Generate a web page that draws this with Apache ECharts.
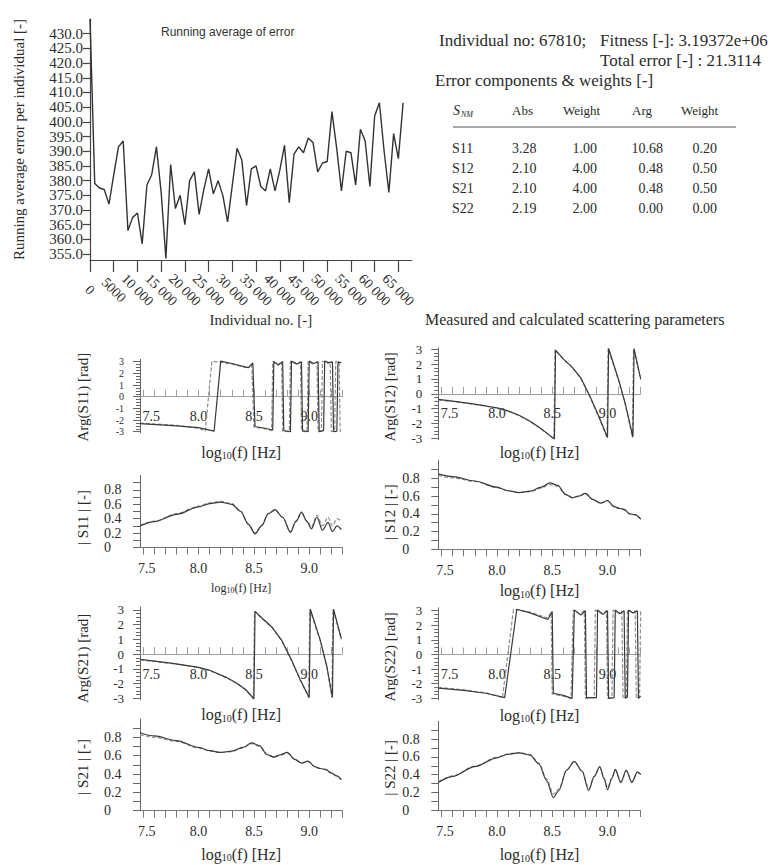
<!DOCTYPE html>
<html>
<head>
<meta charset="utf-8">
<title>Running average of error / scattering parameters</title>
<script src="https://cdn.jsdelivr.net/npm/echarts@6/dist/echarts.min.js"></script>
<style>
  html, body { margin: 0; padding: 0; background: #fff; }
  #chart { width: 775px; height: 865px; }
</style>
</head>
<body>
<div id="chart"></div>
<script>
'use strict';

var SERIF = '"Liberation Serif", "Times New Roman", serif';
var SANS = '"Liberation Sans", Arial, sans-serif';
var INK = '#2b2b2b';

// Running average of error (one value per 1000 individuals)
var runIndividual = [
  0, 1000, 2000, 3000, 4000, 5000, 6000, 7000, 8000, 9000,
  10000, 11000, 12000, 13000, 14000, 15000, 16000, 17000, 18000, 19000,
  20000, 21000, 22000, 23000, 24000, 25000, 26000, 27000, 28000, 29000,
  30000, 31000, 32000, 33000, 34000, 35000, 36000, 37000, 38000, 39000,
  40000, 41000, 42000, 43000, 44000, 45000, 46000, 47000, 48000, 49000,
  50000, 51000, 52000, 53000, 54000, 55000, 56000, 57000, 58000, 59000,
  60000, 61000, 62000, 63000, 64000, 65000, 66000
];
var runError = [
  435, 379, 377.5, 377, 372, 382, 391.5, 393.5, 363, 367.5,
  369, 358.5, 378.5, 382, 391.5, 376, 353.5, 385.5, 370.5, 375,
  365, 380, 383, 368.5, 377, 384, 375.5, 380, 375, 366,
  378.5, 391, 387, 371.5, 384, 385, 378, 376.5, 384, 376.5,
  383.5, 392, 372.5, 389, 391.5, 389.5, 394.5, 393, 383, 386,
  386.5, 403.5, 391, 376.5, 390, 389.5, 378.5, 397.5, 393.5, 378,
  402, 406.5, 390, 376, 396, 387.5, 406.5
];
var runXTicks = [0, 5000, 10000, 15000, 20000, 25000, 30000, 35000, 40000, 45000, 50000, 55000, 60000, 65000];
var runYTicks = [355, 360, 365, 370, 375, 380, 385, 390, 395, 400, 405, 410, 415, 420, 425, 430];

// Best individual and its error table
var individualNo = 67810;
var fitness = '3.19372e+06';
var totalError = '21.3114';
var compNames = ['S11', 'S12', 'S21', 'S22'];
var absErr = ['3.28', '2.10', '2.10', '2.19'];
var absWeight = ['1.00', '4.00', '4.00', '2.00'];
var argErr = ['10.68', '0.48', '0.48', '0.00'];
var argWeight = ['0.20', '0.50', '0.50', '0.00'];

// Scattering parameter panels: x = log10(f)
var freqTicks = [7.5, 7.6, 7.7, 7.8, 7.9, 8.0, 8.1, 8.2, 8.3, 8.4, 8.5, 8.6, 8.7, 8.8, 8.9, 9.0, 9.1, 9.2, 9.3];
var freqLabels = [7.5, 8.0, 8.5, 9.0];
var argLabels = [-3, -2, -1, 0, 1, 2, 3];
var magLabels = [0, 0.2, 0.4, 0.6, 0.8];

var argS11Meas = [[7.47,-2.3],[7.8,-2.5],[8.0,-2.65],[8.14,-2.95],[8.2,3.05],[8.3,2.85],[8.45,2.5],[8.49,2.9],
  [8.51,-2.55],[8.6,-2.7],[8.67,-2.85],[8.68,3.0],[8.72,2.75],[8.76,3.0],[8.77,-2.9],[8.83,-3.0],
  [8.84,3.05],[8.89,2.8],[8.93,3.0],[8.94,-2.9],[8.99,-3.0],[9.0,3.05],[9.04,2.85],[9.08,3.0],
  [9.09,-3.0],[9.13,-2.9],[9.14,3.05],[9.18,2.9],[9.21,3.0],[9.22,-3.0],[9.25,-2.95],[9.26,3.0],[9.29,2.9]];
var argS11Calc = [[7.47,-2.25],[7.8,-2.45],[8.0,-2.7],[8.06,-2.95],[8.12,3.05],[8.2,2.95],[8.3,2.8],[8.45,2.45],[8.48,2.85],
  [8.5,-2.6],[8.6,-2.75],[8.66,-2.9],[8.67,3.05],[8.72,2.7],[8.75,3.0],[8.76,-2.95],[8.82,-3.0],
  [8.83,3.05],[8.88,2.8],[8.92,3.0],[8.93,-2.95],[8.98,-3.0],[8.99,3.05],[9.03,2.8],[9.07,3.0],
  [9.08,-3.0],[9.11,-2.9],[9.12,3.05],[9.16,2.85],[9.19,3.0],[9.2,-3.0],[9.23,-2.9],[9.24,3.05],[9.27,2.9],[9.28,-3.0],[9.29,-2.9]];

var argS12Meas = [[7.47,-0.38],[7.6,-0.5],[7.75,-0.65],[7.9,-0.82],[8.0,-0.95],[8.1,-1.15],[8.2,-1.45],[8.3,-1.85],
  [8.4,-2.35],[8.46,-2.7],[8.52,-3.05],[8.53,2.95],[8.6,2.35],[8.68,1.8],[8.76,1.05],[8.84,-0.15],[8.92,-1.5],
  [9.0,-2.95],[9.01,3.05],[9.1,0.95],[9.16,-0.65],[9.23,-2.9],[9.24,3.05],[9.3,1.0]];
var argS12Calc = [[7.47,-0.42],[7.6,-0.52],[7.75,-0.66],[7.9,-0.83],[8.0,-0.97],[8.1,-1.17],[8.2,-1.47],[8.3,-1.87],
  [8.4,-2.37],[8.46,-2.72],[8.515,-3.05],[8.525,2.95],[8.6,2.33],[8.68,1.78],[8.76,1.02],[8.84,-0.2],[8.92,-1.55],
  [8.995,-2.95],[9.005,3.05],[9.1,0.9],[9.16,-0.7],[9.225,-2.95],[9.235,3.05],[9.3,0.95]];

var argS21Meas = [[7.47,-0.36],[7.6,-0.48],[7.75,-0.62],[7.9,-0.78],[8.0,-0.9],[8.1,-1.1],[8.25,-1.58],[8.35,-2.0],
  [8.43,-2.44],[8.5,-3.05],[8.51,2.9],[8.58,2.4],[8.66,1.86],[8.75,0.95],[8.84,-0.41],[8.92,-1.76],
  [9.0,-2.95],[9.01,3.05],[9.1,0.95],[9.16,-0.86],[9.21,-2.95],[9.22,3.05],[9.29,1.06]];
var argS21Calc = [[7.47,-0.4],[7.6,-0.5],[7.75,-0.64],[7.9,-0.8],[8.0,-0.92],[8.1,-1.12],[8.25,-1.6],[8.35,-2.03],
  [8.43,-2.47],[8.495,-3.05],[8.505,2.9],[8.58,2.37],[8.66,1.83],[8.75,0.92],[8.84,-0.45],[8.92,-1.8],
  [8.995,-2.95],[9.005,3.05],[9.1,0.9],[9.16,-0.9],[9.205,-2.95],[9.215,3.05],[9.29,1.0]];

var argS22Meas = [[7.47,-2.3],[7.7,-2.45],[7.9,-2.65],[8.07,-2.95],[8.18,3.1],[8.3,2.85],[8.46,2.4],[8.5,2.95],
  [8.51,-2.65],[8.6,-2.8],[8.68,-3.0],[8.7,3.05],[8.76,2.7],[8.8,3.0],[8.81,-2.95],[8.9,-2.95],
  [8.91,3.05],[8.96,2.75],[9.0,3.0],[9.01,-3.0],[9.06,-2.95],[9.07,3.05],[9.11,2.8],[9.15,3.0],
  [9.16,-3.0],[9.18,-2.9],[9.19,3.05],[9.23,2.85],[9.27,3.0],[9.28,-3.0],[9.3,-2.85]];
var argS22Calc = [[7.47,-2.25],[7.7,-2.42],[7.9,-2.62],[8.05,-2.95],[8.15,3.1],[8.3,2.9],[8.46,2.5],[8.49,2.9],
  [8.5,-2.7],[8.6,-2.85],[8.67,-3.0],[8.69,3.05],[8.75,2.75],[8.79,3.0],[8.8,-3.0],[8.88,-2.95],
  [8.89,3.05],[8.95,2.8],[8.99,3.0],[9.0,-3.0],[9.04,-2.95],[9.05,3.05],[9.1,2.85],[9.13,3.0],
  [9.14,-3.0],[9.17,-2.9],[9.18,3.05],[9.22,2.9],[9.25,3.0],[9.26,-3.0],[9.29,-2.9],[9.3,3.0]];

var magS11Meas = [[7.47,0.30],[7.6,0.36],[7.8,0.46],[8.0,0.565],[8.1,0.61],[8.2,0.63],[8.3,0.60],[8.38,0.50],
  [8.45,0.32],[8.51,0.19],[8.57,0.30],[8.63,0.47],[8.69,0.525],[8.76,0.42],[8.83,0.21],[8.88,0.36],
  [8.93,0.49],[8.98,0.36],[9.02,0.26],[9.07,0.42],[9.12,0.24],[9.17,0.35],[9.21,0.22],[9.25,0.30],[9.29,0.25]];
var magS11Calc = [[7.47,0.31],[7.6,0.365],[7.8,0.47],[8.0,0.575],[8.1,0.62],[8.2,0.64],[8.3,0.61],[8.38,0.51],
  [8.45,0.33],[8.51,0.20],[8.57,0.31],[8.63,0.47],[8.69,0.52],[8.76,0.42],[8.83,0.22],[8.88,0.37],
  [8.93,0.48],[8.98,0.37],[9.02,0.28],[9.07,0.45],[9.12,0.30],[9.17,0.42],[9.21,0.30],[9.25,0.40],[9.29,0.37]];

var magS12Meas = [[7.47,0.85],[7.6,0.82],[7.8,0.77],[8.0,0.70],[8.1,0.66],[8.2,0.64],[8.3,0.655],[8.4,0.70],
  [8.48,0.75],[8.55,0.72],[8.62,0.62],[8.68,0.58],[8.74,0.60],[8.8,0.63],[8.87,0.56],[8.94,0.52],
  [9.0,0.55],[9.06,0.48],[9.11,0.46],[9.15,0.45],[9.2,0.40],[9.25,0.39],[9.3,0.34]];
var magS12Calc = [[7.47,0.83],[7.6,0.805],[7.8,0.765],[8.0,0.695],[8.1,0.66],[8.2,0.64],[8.3,0.65],[8.4,0.69],
  [8.48,0.73],[8.55,0.71],[8.62,0.62],[8.68,0.585],[8.74,0.60],[8.8,0.625],[8.87,0.56],[8.94,0.52],
  [9.0,0.545],[9.06,0.48],[9.11,0.46],[9.15,0.445],[9.2,0.40],[9.25,0.385],[9.3,0.34]];

var magS21Meas = [[7.47,0.85],[7.6,0.815],[7.8,0.765],[8.0,0.69],[8.1,0.655],[8.2,0.635],[8.3,0.65],[8.4,0.69],
  [8.48,0.74],[8.55,0.71],[8.62,0.61],[8.68,0.585],[8.74,0.61],[8.8,0.635],[8.87,0.56],[8.93,0.52],
  [8.99,0.54],[9.05,0.48],[9.1,0.46],[9.15,0.45],[9.2,0.41],[9.25,0.38],[9.29,0.34]];
var magS21Calc = [[7.47,0.83],[7.6,0.80],[7.8,0.755],[8.0,0.685],[8.1,0.65],[8.2,0.635],[8.3,0.645],[8.4,0.685],
  [8.48,0.73],[8.55,0.70],[8.62,0.61],[8.68,0.585],[8.74,0.605],[8.8,0.63],[8.87,0.56],[8.93,0.52],
  [8.99,0.535],[9.05,0.48],[9.1,0.46],[9.15,0.445],[9.2,0.41],[9.25,0.375],[9.29,0.34]];

var magS22Meas = [[7.47,0.31],[7.6,0.38],[7.8,0.49],[8.0,0.59],[8.1,0.63],[8.2,0.645],[8.3,0.62],[8.38,0.52],
  [8.45,0.33],[8.51,0.14],[8.56,0.22],[8.63,0.45],[8.7,0.55],[8.77,0.44],[8.83,0.22],[8.88,0.38],
  [8.93,0.49],[8.97,0.35],[9.0,0.23],[9.04,0.36],[9.07,0.46],[9.12,0.31],[9.17,0.45],[9.22,0.31],[9.27,0.43],[9.3,0.40]];
var magS22Calc = [[7.47,0.32],[7.6,0.385],[7.8,0.495],[8.0,0.595],[8.1,0.635],[8.2,0.65],[8.3,0.625],[8.38,0.53],
  [8.45,0.35],[8.51,0.18],[8.56,0.24],[8.63,0.45],[8.7,0.545],[8.77,0.44],[8.83,0.24],[8.88,0.38],
  [8.93,0.48],[8.97,0.36],[9.0,0.25],[9.04,0.36],[9.07,0.45],[9.12,0.32],[9.17,0.44],[9.22,0.32],[9.27,0.42],[9.3,0.41]];

// Panel layout (grid boxes in px) and per-panel name placement
var panels = [
  {box: [140, 359.4, 202.4, 73.5], kind: 'arg', yMin: -3.1, yMax: 3.2, yName: 'Arg(S11) [rad]', yGap: 50, yShift: 1, yFont: 10, xGap: 47, xFont: 16, meas: argS11Meas, calc: argS11Calc},
  {box: [438.3, 347.8, 202.4, 92], kind: 'arg', yMin: -3.1, yMax: 3.1, yName: 'Arg(S12) [rad]', yGap: 41, yShift: 3, yFont: 13, xGap: 50, xFont: 16, meas: argS12Meas, calc: argS12Calc},
  {box: [140, 475.5, 202.4, 72], kind: 'mag', yMin: 0, yMax: 1, yName: '| S11 | [-]', yGap: 50, yShift: 6, yFont: 14, xGap: 34, xFont: 12, meas: magS11Meas, calc: magS11Calc},
  {box: [438.3, 460.6, 202.4, 88.7], kind: 'mag', yMin: 0, yMax: 1, yName: '| S12 | [-]', yGap: 41, yShift: 7, yFont: 14, xGap: 33, xFont: 16, meas: magS12Meas, calc: magS12Calc},
  {box: [140, 607, 202.4, 92.7], kind: 'arg', yMin: -3.1, yMax: 3.2, yName: 'Arg(S21) [rad]', yGap: 50, yShift: 5, yFont: 13, xGap: 52, xFont: 16, meas: argS21Meas, calc: argS21Calc},
  {box: [438.3, 607.8, 202.4, 92], kind: 'arg', yMin: -3.1, yMax: 3.2, yName: 'Arg(S22) [rad]', yGap: 41, yShift: 3, yFont: 13, xGap: 52, xFont: 16, meas: argS22Meas, calc: argS22Calc},
  {box: [140, 719, 202.4, 91.7], kind: 'mag', yMin: 0, yMax: 1, yName: '| S21 | [-]', yGap: 50, yShift: 2, yFont: 14, xGap: 35, xFont: 16, meas: magS21Meas, calc: magS21Calc},
  {box: [438.3, 721.5, 202.4, 88.5], kind: 'mag', yMin: 0, yMax: 1, yName: '| S22 | [-]', yGap: 41, yShift: 2, yFont: 14, xGap: 36, xFont: 16, meas: magS22Meas, calc: magS22Calc}
];

function pairs(xs, ys) {
  return xs.map(function (x, i) { return [x, ys[i]]; });
}
function everyOther(list, start) {
  return list.filter(function (v, i) { return i % 2 === start; });
}
function fmtIndividual(v) {
  if (v < 10000) return String(v);
  return Math.round(v / 1000) + ' 000';
}

// Tightly packed y labels are drawn by two stacked axes (even / odd labels)
// so that the library does not drop any of them as overlapping.
function labelOnlyAxis(gridIndex, min, max, values, labelStyle) {
  return {
    gridIndex: gridIndex, type: 'value', position: 'left', min: min, max: max,
    axisLine: {show: false}, axisTick: {show: false}, minorTick: {show: false}, splitLine: {show: false},
    axisLabel: Object.assign({show: true, customValues: values, hideOverlap: false, showMinLabel: true, showMaxLabel: true}, labelStyle)
  };
}

var runYLabel = {
  margin: 7, fontFamily: SERIF, fontSize: 15, color: INK,
  formatter: function (v) { return v.toFixed(1); }
};

var grids = [{left: 90, top: 19, width: 321.7, height: 241}];
var xAxes = [{
  gridIndex: 0, type: 'value', min: 0, max: 67810,
  axisLine: {show: true, onZero: false, lineStyle: {color: '#444', width: 1.2}},
  axisTick: {show: true, customValues: runXTicks, length: 12, lineStyle: {color: '#444', width: 1.2}},
  axisLabel: {
    show: true, customValues: runXTicks, rotate: -45, align: 'center', verticalAlign: 'middle',
    margin: 30, fontFamily: SERIF, fontSize: 14, color: INK, formatter: fmtIndividual,
    hideOverlap: false, showMinLabel: true, showMaxLabel: true
  },
  splitLine: {show: false},
  name: 'Individual no. [-]', nameLocation: 'middle', nameGap: 52,
  nameTextStyle: {fontFamily: SERIF, fontSize: 15, color: INK, padding: [0, 0, 0, 20]}
}];
var yAxes = [{
  gridIndex: 0, type: 'value', position: 'left', min: 353, max: 435,
  axisLine: {show: true, onZero: false, lineStyle: {color: '#444', width: 1.2}},
  axisTick: {show: true, customValues: runYTicks, length: 7, lineStyle: {color: '#444', width: 1.2}},
  axisLabel: Object.assign({show: true, customValues: everyOther(runYTicks, 0), hideOverlap: false, showMinLabel: true, showMaxLabel: true}, runYLabel),
  splitLine: {show: false},
  name: 'Running average error per individual [-]', nameLocation: 'middle', nameGap: 64,
  nameTextStyle: {fontFamily: SERIF, fontSize: 15, color: INK}
}];
yAxes.push(labelOnlyAxis(0, 353, 435, everyOther(runYTicks, 1), runYLabel));

var series = [{
  type: 'line', xAxisIndex: 0, yAxisIndex: 0,
  data: pairs(runIndividual, runError),
  symbol: 'none', clip: false,
  lineStyle: {color: '#333', width: 1.4}
}];

panels.forEach(function (p, k) {
  var g = k + 1;
  var isArg = p.kind === 'arg';
  // phase panels: lift the x axis up to the zero line
  var zeroLift = isArg ? p.box[3] * (0 - p.yMin) / (p.yMax - p.yMin) : 0;
  var firstPad = isArg ? 16 : 7;
  grids.push({left: p.box[0], top: p.box[1], width: p.box[2], height: p.box[3]});
  xAxes.push({
    gridIndex: g, type: 'value', min: 7.47, max: 9.3, offset: -zeroLift,
    axisLine: {show: true, onZero: false, lineStyle: {color: isArg ? '#a0a0a0' : '#777', width: 1}},
    axisTick: {show: true, customValues: freqTicks, inside: isArg, length: 7, lineStyle: {color: isArg ? '#a0a0a0' : '#777'}},
    axisLabel: {
      show: true, customValues: freqLabels, margin: isArg ? 13 : 14,
      fontFamily: SERIF, fontSize: 14, color: INK, hideOverlap: false,
      formatter: function (v) {
        var s = v.toFixed(1);
        return v === freqLabels[0] ? '{first|' + s + '}' : s;
      },
      rich: {first: {fontFamily: SERIF, fontSize: 14, color: INK, padding: [0, 0, 0, firstPad]}}
    },
    splitLine: {show: false},
    name: 'log{sub|10}(f) [Hz]', nameLocation: 'middle', nameGap: p.xGap,
    nameTextStyle: {
      fontFamily: SERIF, fontSize: p.xFont, color: INK,
      rich: {sub: {fontFamily: SERIF, fontSize: Math.round(p.xFont * 0.65), color: INK, verticalAlign: 'bottom', padding: [Math.round(p.xFont * 0.45), 0, 0, 0]}}
    }
  });

  var yLabel = {
    align: isArg ? 'right' : 'left', margin: isArg ? 16 : 36,
    fontFamily: SERIF, fontSize: p.yFont, color: INK,
    formatter: function (v) { return isArg ? String(v) : (v === 0 ? '0' : v.toFixed(1)); }
  };
  var labels = isArg ? argLabels : magLabels;
  var yIndex = yAxes.length;
  yAxes.push({
    gridIndex: g, type: 'value', position: 'left', min: p.yMin, max: p.yMax,
    axisLine: {show: true, onZero: false, lineStyle: {color: '#666', width: 1}},
    axisTick: {show: true, customValues: labels, length: 7, lineStyle: {color: '#666'}},
    minorTick: {show: true, splitNumber: isArg ? 4 : 2, length: isArg ? 4 : 7, lineStyle: {color: '#666'}},
    axisLabel: Object.assign({show: true, customValues: isArg ? everyOther(labels, 0) : labels,
      hideOverlap: false, showMinLabel: true, showMaxLabel: true}, yLabel),
    splitLine: {show: false},
    name: p.yName, nameLocation: 'middle', nameGap: p.yGap,
    nameTextStyle: {fontFamily: SERIF, fontSize: 15, color: INK, padding: [0, p.yShift * 2, 0, 0]}
  });
  if (isArg) {
    yAxes.push(labelOnlyAxis(g, p.yMin, p.yMax, everyOther(labels, 1), yLabel));
  }

  series.push({
    type: 'line', xAxisIndex: g, yAxisIndex: yIndex, data: p.calc, symbol: 'none', clip: false,
    smooth: isArg ? false : 0.3, smoothMonotone: 'x',
    lineStyle: {color: '#8e8e8e', width: 1.2, type: [4, 2]}
  });
  series.push({
    type: 'line', xAxisIndex: g, yAxisIndex: yIndex, data: p.meas, symbol: 'none', clip: false,
    smooth: isArg ? false : 0.3, smoothMonotone: 'x',
    lineStyle: {color: '#3a3a3a', width: 1.2}
  });
});

function txt(x, y, s, size, align, style) {
  return {
    type: 'text', x: x, y: y, silent: true,
    style: Object.assign({
      text: s, font: size + 'px ' + SERIF, fill: INK,
      textAlign: align || 'left', textVerticalAlign: 'middle'
    }, style || {})
  };
}

var graphics = [
  txt(439, 40, 'Individual no: ' + individualNo + ';', 17),
  txt(600, 40, 'Fitness [-]: ' + fitness, 17),
  txt(600, 60, 'Total error [-] : ' + totalError, 17),
  txt(435, 80, 'Error components & weights [-]', 17),
  txt(453, 110, 'S', 14, 'left', {font: 'italic 14px ' + SERIF}),
  txt(461, 114, 'NM', 8, 'left', {font: 'italic 8px ' + SERIF}),
  txt(512, 110, 'Abs', 13),
  txt(563, 110, 'Weight', 13),
  txt(632, 110, 'Arg', 13),
  txt(681, 110, 'Weight', 13),
  {type: 'line', silent: true, shape: {x1: 453, y1: 127, x2: 736, y2: 127}, style: {stroke: '#555', lineWidth: 1}}
];
compNames.forEach(function (name, i) {
  var y = 148 + 20 * i;
  graphics.push(txt(452, y, name, 14));
  graphics.push(txt(512, y, absErr[i], 14));
  graphics.push(txt(597, y, absWeight[i], 14, 'right'));
  graphics.push(txt(663, y, argErr[i], 14, 'right'));
  graphics.push(txt(717, y, argWeight[i], 14, 'right'));
});

var chart = echarts.init(document.getElementById('chart'), null, {renderer: 'svg'});
chart.setOption({
  animation: false,
  backgroundColor: '#fff',
  title: [
    {text: 'Running average of error', left: 161, top: 26, padding: 0,
      textStyle: {fontFamily: SANS, fontSize: 12, fontWeight: 'normal', color: '#333'}},
    {text: 'Measured and calculated scattering parameters', left: 425, top: 311, padding: 0,
      textStyle: {fontFamily: SERIF, fontSize: 16, fontWeight: 'normal', color: INK}}
  ],
  grid: grids,
  xAxis: xAxes,
  yAxis: yAxes,
  series: series,
  graphic: graphics
});
</script>
</body>
</html>
